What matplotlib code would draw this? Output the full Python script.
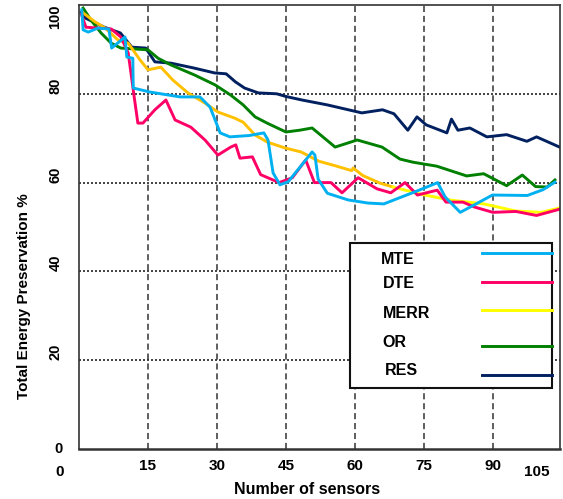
import matplotlib
matplotlib.use('Agg')
import matplotlib.pyplot as plt
from matplotlib.patches import Rectangle

plt.rcParams['font.family'] = ['Liberation Sans', 'DejaVu Sans']
plt.rcParams['font.weight'] = 'bold'

# curve values
mte_x = [0.6, 0.9, 2, 4.1, 6.5, 7.1, 10, 10.4, 11.7, 11.8, 15.4, 22, 26.3, 28.5, 30.7, 32.8, 37, 40.2,
         41.1, 42.2, 43.7, 45.5, 48.3, 50.7, 51.3, 52, 54, 58.5, 62.8, 66.3, 69.5, 73, 78, 79.6, 82.9,
         86, 89.9, 97.5, 100.9, 103.5]
mte_y = [98.9, 94.4, 93.9, 94.8, 94.6, 90.3, 92.8, 88.3, 88, 81.3, 80.4, 79.3, 79.3, 77, 71.2, 70.3, 70.6, 71.2,
         69.6, 62.2, 59.5, 60.2, 63.8, 66.9, 66.2, 60.8, 57.6, 56.1, 55.4, 55.2, 56.5, 57.9, 60, 56.8, 53.3,
         55, 57.2, 57.1, 58.4, 60.1]

dte_x = [0.5, 1.5, 4.1, 7, 9.1, 10.7, 11.3, 12, 12.8, 13.9, 16.5, 18.9, 20.9, 24.3, 27.4, 30.2, 33, 34.1,
         35, 37.7, 39.5, 43.5, 46.4, 49.3, 51.2, 54.8, 57.2, 60.7, 64.8, 67.8, 70.9, 73.6, 77.9, 79.8,
         83.5, 86, 90, 95, 99.5, 104.5]
dte_y = [98, 95, 94.8, 94.6, 92.8, 89.2, 84.7, 79.3, 73.4, 73.4, 76.4, 78.6, 74.1, 72.5, 69.6, 66.2, 68, 68.5,
         65.5, 65.8, 61.8, 60, 61.1, 65.1, 60, 60, 57.7, 61.1, 58.6, 57.7, 60, 57.2, 58.3, 55.6,
         55.6, 54.5, 53.3, 53.5, 52.6, 54]

merr_x = [0.9, 3.5, 5.7, 8.5, 10.7, 13.3, 15, 17.8, 20.4, 23.7, 27.4, 30.2, 33.9, 35.7, 38.3, 41, 44.8,
          48.3, 52.2, 55.7, 59.3, 59.6, 61.7, 65.4, 68.3, 74.3, 80.5, 88, 95, 100.5, 104.6]
merr_y = [98.2, 96.2, 94.8, 92.1, 91.4, 87.6, 85.4, 86, 83.1, 80.2, 77.9, 75.9, 74.5, 73.6, 70.7, 69.1, 67.8,
          66.9, 64.8, 63.8, 62.7, 63.3, 61.6, 59.9, 59, 57.4, 56.1, 55.2, 53.6, 53.3, 54.3]

or_x = [0.9, 2.6, 4.8, 7, 9.1, 15, 17.2, 20, 25.2, 29.6, 33, 35.7, 38.3, 40.9, 45, 48, 50.7, 55.7, 60.5,
        65.9, 69.8, 72.6, 77.8, 84.3, 88, 93, 96.4, 99.3, 101.8, 103.5]
or_y = [99.3, 96.6, 93.7, 91.4, 90.3, 89.9, 88, 86.5, 84.2, 82, 79.7, 77.5, 74.8, 73.4, 71.4, 71.8, 72.3, 68, 69.6,
        68, 65.3, 64.6, 63.7, 61.5, 62, 59.3, 61.7, 59.1, 59, 60.6]

res_x = [0.5, 1.5, 5.5, 9, 11.5, 14.5, 16.5, 20, 25, 29.5, 32, 34, 36, 39, 43, 45, 48.5, 54, 61.5, 66,
         68.5, 71.5, 73.5, 75.5, 80, 81, 82.4, 85, 88.7, 93, 97.4, 99.5, 104.5]
res_y = [98.4, 97, 95, 93.7, 90.5, 90.3, 87.2, 86.9, 85.8, 84.7, 84.5, 82.7, 81.3, 80.2, 80, 79.4, 78.6, 77.5,
         75.7, 76.4, 75.5, 71.8, 74.8, 73, 71.2, 74.3, 71.8, 72.3, 70.3, 70.8, 69.3, 70.3, 68]

names = ['MTE', 'DTE', 'MERR', 'OR', 'RES']
colors = ['#00B0F0', '#FF0066', '#FFFF00', '#008000', '#002060']
merr_left_color = '#FFC000'

xticks = [15, 30, 45, 60, 75, 90]
yticks = [0, 20, 40, 60, 80, 100]

fig = plt.figure(figsize=(5.63, 4.99), dpi=100)
ax = fig.add_axes([79 / 563, 1 - 449 / 499, 481 / 563, 444 / 499])

lw = 2.1
ax.plot(res_x, res_y, color=colors[4], lw=lw)
ax.plot(or_x, or_y, color=colors[3], lw=lw)
k = merr_x.index(68.3)
ax.plot(merr_x[:k + 1], merr_y[:k + 1], color=merr_left_color, lw=lw)
ax.plot(merr_x[k:], merr_y[k:], color=colors[2], lw=lw)
ax.plot(dte_x, dte_y, color=colors[1], lw=lw)
ax.plot(mte_x, mte_y, color=colors[0], lw=lw)

ax.set_xlim(0, 104.6)
ax.set_ylim(0, 100)

# grid: dashed verticals, dotted horizontals
for v in xticks:
    ax.axvline(v, color='#333333', lw=1.1, dashes=(4, 2.5), zorder=0)
for v in yticks[1:-1]:
    ax.axhline(v, color='#222222', lw=1.2, dashes=(1.2, 1.2), zorder=0)

for s in ax.spines.values():
    s.set_color('#333333')
    s.set_linewidth(1.2)
ax.spines['bottom'].set_linewidth(1.8)

ax.tick_params(length=0)
ax.set_xticks(xticks)
ax.set_xticklabels([str(t) for t in xticks], fontsize=11, fontweight='bold')
ax.tick_params(axis='x', pad=7)
ax.text(99.6, -0.035, '105', transform=ax.get_xaxis_transform(), ha='center', va='top',
        fontsize=11, fontweight='bold')
ax.text(-0.04, -0.035, '0', transform=ax.transAxes, ha='center', va='top',
        fontsize=11, fontweight='bold')

ax.set_yticks(yticks)
ax.set_yticklabels([str(t) for t in yticks], fontsize=10.5, fontweight='bold', rotation=90, va='bottom')
ax.tick_params(axis='y', pad=12)
ylabs = ax.get_yticklabels()
ylabs[0].set_rotation(0)
ylabs[0].set_va('center')
ylabs[-1].set_va('top')

ax.set_xlabel('Number of sensors', fontsize=11.5, fontweight='bold', va='center')
ax.xaxis.set_label_coords(0.474, -0.092)
ax.set_ylabel('Total Energy Preservation %', fontsize=11, fontweight='bold', va='center')
ax.yaxis.set_label_coords(-0.114, 0.345)

# legend box drawn by hand (text left, line sample right)
ax.add_patch(Rectangle((0.563, 0.137), 0.42, 0.327, transform=ax.transAxes, facecolor='white',
                       edgecolor='#111111', lw=1.5, zorder=5))
text_x = [0.628, 0.632, 0.632, 0.630, 0.636]
text_y = [0.426, 0.372, 0.306, 0.239, 0.176]
line_y = [0.441, 0.376, 0.313, 0.232, 0.167]
for i, name in enumerate(names):
    ax.text(text_x[i], text_y[i], name, transform=ax.transAxes, ha='left', va='center',
            fontsize=11.5, fontweight='bold', zorder=6)
    ax.plot([0.838, 0.983], [line_y[i], line_y[i]], transform=ax.transAxes, color=colors[i],
            lw=lw, zorder=6, clip_on=False)

fig.savefig('out.png', dpi=100)
